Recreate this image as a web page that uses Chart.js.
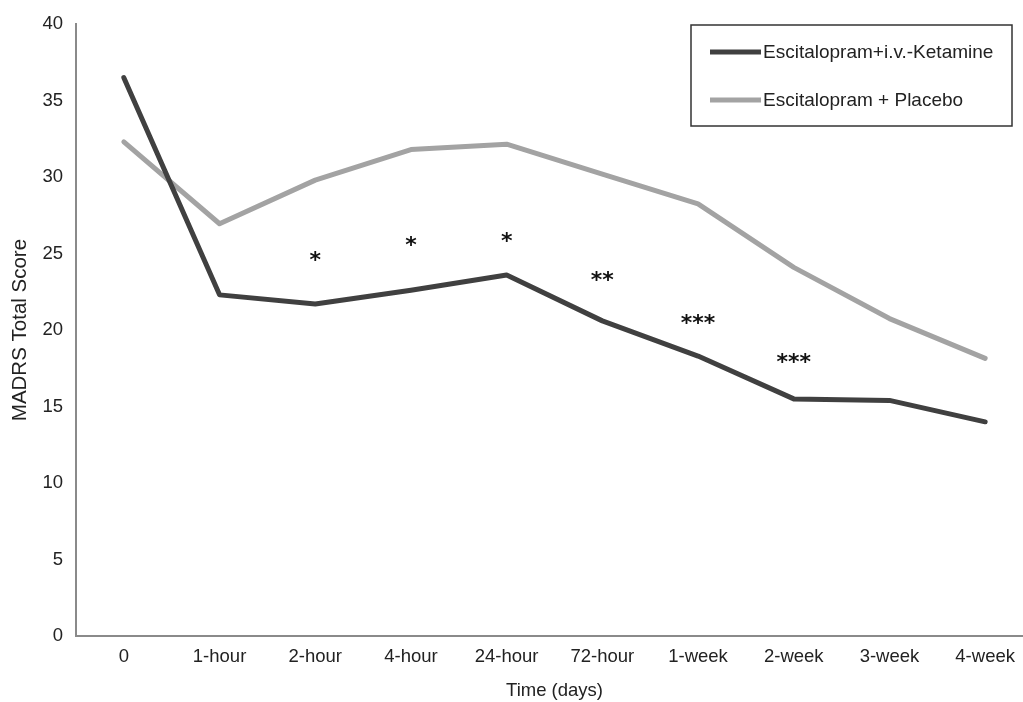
<!DOCTYPE html>
<html>
<head>
<meta charset="utf-8">
<script src="https://cdn.jsdelivr.net/npm/chart.js@4.4.1/dist/chart.umd.min.js"></script>
<style>
  html, body { margin: 0; padding: 0; background: #fff; overflow: hidden; }
  #wrap { width: 1040px; height: 702px; }
</style>
</head>
<body>
<div id="wrap"><canvas id="c" width="1040" height="702"></canvas></div>
<script>
const categories = ['0', '1-hour', '2-hour', '4-hour', '24-hour', '72-hour', '1-week', '2-week', '3-week', '4-week'];
const ketamine = [36.5, 22.3, 21.7, 22.6, 23.6, 20.6, 18.3, 15.5, 15.4, 14.0];
const placebo  = [32.3, 26.95, 29.8, 31.8, 32.15, 30.2, 28.25, 24.1, 20.75, 18.15];
const starMarks = ['', '', '*', '*', '*', '**', '***', '***', '', ''];
const starValues = [null, null, 24.86, 25.8, 26.1, 23.55, 20.7, 18.2, null, null];
const yTicks = [0, 5, 10, 15, 20, 25, 30, 35, 40];
const seriesNames = ['Escitalopram+i.v.-Ketamine', 'Escitalopram + Placebo'];

const FONT = '"Liberation Sans", Arial, sans-serif';
const TEXT = '#222222';

const starsPlugin = {
  id: 'stars',
  afterDatasetsDraw(chart) {
    const ctx = chart.ctx;
    const xs = chart.scales.x, ys = chart.scales.y;
    ctx.save();
    ctx.fillStyle = '#111111';
    ctx.font = 'bold 22px "DejaVu Sans", sans-serif';
    ctx.textAlign = 'center';
    ctx.textBaseline = 'alphabetic';
    starMarks.forEach((m, i) => {
      if (!m || starValues[i] == null) return;
      const cx = xs.getPixelForValue(i);
      const cy = ys.getPixelForValue(starValues[i]);
      const mt = ctx.measureText(m);
      const a = mt.actualBoundingBoxAscent, d = mt.actualBoundingBoxDescent;
      ctx.fillText(m, cx, cy + (a - d) / 2);
    });
    ctx.restore();
  }
};

const legendPlugin = {
  id: 'boxLegend',
  afterDraw(chart) {
    const ctx = chart.ctx;
    ctx.save();
    ctx.strokeStyle = '#333333';
    ctx.lineWidth = 1.5;
    ctx.strokeRect(691, 25, 321, 101);
    const rows = [52, 100];
    chart.data.datasets.forEach((ds, i) => {
      ctx.strokeStyle = ds.borderColor;
      ctx.lineWidth = 5;
      ctx.lineCap = 'butt';
      ctx.beginPath();
      ctx.moveTo(710, rows[i]);
      ctx.lineTo(761, rows[i]);
      ctx.stroke();
      ctx.fillStyle = TEXT;
      ctx.font = '19px ' + FONT;
      ctx.textAlign = 'left';
      ctx.textBaseline = 'middle';
      ctx.fillText(ds.label, 763, rows[i] + 1);
    });
    ctx.restore();
  }
};

new Chart(document.getElementById('c'), {
  type: 'line',
  data: {
    labels: categories,
    datasets: [
      { label: seriesNames[0], data: ketamine, borderColor: '#404040', backgroundColor: '#404040',
        borderWidth: 5, pointRadius: 0, tension: 0, borderCapStyle: 'round', borderJoinStyle: 'round' },
      { label: seriesNames[1], data: placebo, borderColor: '#a3a3a3', backgroundColor: '#a3a3a3',
        borderWidth: 5, pointRadius: 0, tension: 0, borderCapStyle: 'round', borderJoinStyle: 'round' }
    ]
  },
  options: {
    responsive: false,
    animation: false,
    events: [],
    layout: { padding: { top: 23, right: 7, left: 0, bottom: 0 } },
    plugins: { legend: { display: false }, tooltip: { enabled: false } },
    scales: {
      x: {
        type: 'category',
        offset: true,
        grid: { display: false, drawTicks: false },
        border: { display: true, color: '#8a8a8a', width: 2 },
        ticks: { color: TEXT, font: { family: FONT, size: 18.5 }, padding: 10, maxRotation: 0, autoSkip: false },
        title: { display: true, text: 'Time (days)', color: TEXT, font: { family: FONT, size: 18.5 }, padding: { top: 0, bottom: 0 } },
        afterFit(s) { s.height = 66; }
      },
      y: {
        min: 0, max: 40,
        grid: { display: false, drawTicks: false },
        border: { display: true, color: '#8a8a8a', width: 2 },
        afterBuildTicks(s) { s.ticks = yTicks.map(v => ({ value: v })); },
        ticks: { color: TEXT, font: { family: FONT, size: 18.5 }, padding: 13 },
        title: { display: true, text: 'MADRS Total Score', color: TEXT, font: { family: FONT, size: 20.5 }, padding: { top: 8, bottom: 0 } },
        afterFit(s) { s.width = 76; }
      }
    }
  },
  plugins: [starsPlugin, legendPlugin]
});
</script>
</body>
</html>
